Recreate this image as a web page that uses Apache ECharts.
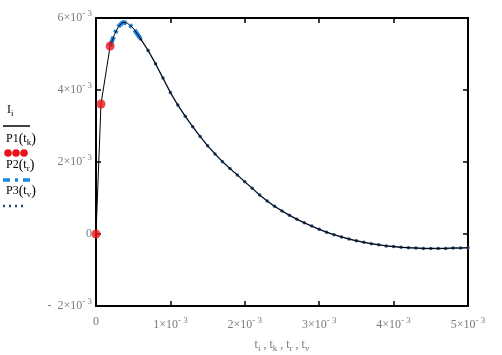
<!DOCTYPE html>
<html><head><meta charset="utf-8">
<script src="https://cdn.jsdelivr.net/npm/echarts@6/dist/echarts.min.js"></script>
<style>html,body{margin:0;padding:0;background:#fff}#c{width:502px;height:355px}</style>
</head><body><div id="c"></div>
<script>
// values in units of 1e-3
const tMain = [0, 0.067, 0.19, 0.25, 0.3, 0.36, 0.42, 0.5, 0.6, 0.7, 0.8, 0.9, 1.0, 1.1, 1.2, 1.3, 1.4, 1.5, 1.6, 1.7, 1.8, 1.9, 2.0, 2.1, 2.2, 2.3, 2.4, 2.5, 2.6, 2.7, 2.8, 2.9, 3.0, 3.1, 3.2, 3.3, 3.4, 3.5, 3.6, 3.7, 3.8, 3.9, 4.0, 4.1, 4.2, 4.3, 4.4, 4.5, 4.6, 4.7, 4.8, 4.9, 5.0];
const iMain = [0, 3.61, 5.22, 5.55, 5.76, 5.88, 5.86, 5.72, 5.42, 5.10, 4.73, 4.33, 3.93, 3.58, 3.27, 2.98, 2.71, 2.45, 2.22, 2.01, 1.82, 1.64, 1.45, 1.27, 1.08, 0.92, 0.77, 0.64, 0.52, 0.41, 0.31, 0.22, 0.13, 0.05, -0.02, -0.08, -0.14, -0.19, -0.23, -0.27, -0.30, -0.33, -0.35, -0.37, -0.38, -0.39, -0.40, -0.40, -0.40, -0.40, -0.39, -0.39, -0.38];
const tK = [0, 0.067, 0.19];
const p1 = [0, 3.61, 5.22];
const tR = [0.19, 0.25, 0.3, 0.36, 0.42, 0.5, 0.6];
const p2 = [5.22, 5.55, 5.76, 5.88, 5.86, 5.72, 5.42];
const tV = [0.6, 0.7, 0.8, 0.9, 1.0, 1.1, 1.2, 1.3, 1.4, 1.5, 1.6, 1.7, 1.8, 1.9, 2.0, 2.1, 2.2, 2.3, 2.4, 2.5, 2.6, 2.7, 2.8, 2.9, 3.0, 3.1, 3.2, 3.3, 3.4, 3.5, 3.6, 3.7, 3.8, 3.9, 4.0, 4.1, 4.2, 4.3, 4.4, 4.5, 4.6, 4.7, 4.8, 4.9, 5.0];
const p3 = [5.42, 5.10, 4.73, 4.33, 3.93, 3.58, 3.27, 2.98, 2.71, 2.45, 2.22, 2.01, 1.82, 1.64, 1.45, 1.27, 1.08, 0.92, 0.77, 0.64, 0.52, 0.41, 0.31, 0.22, 0.13, 0.05, -0.02, -0.08, -0.14, -0.19, -0.23, -0.27, -0.30, -0.33, -0.35, -0.37, -0.38, -0.39, -0.40, -0.40, -0.40, -0.40, -0.39, -0.39, -0.38];
const xTicks = [0, 1, 2, 3, 4, 5];
const yTicks = [-2, 0, 2, 4, 6];

const FONT = 'Liberation Serif';
const GRAY = '#7a7a7a';
const rich = {
  b: {fontFamily: FONT, fontSize: 12, color: GRAY},
  p: {fontFamily: FONT, fontSize: 14, color: GRAY},
  s: {fontFamily: FONT, fontSize: 9, color: GRAY, padding: [0, 0, 8, 0]},
  d: {fontFamily: FONT, fontSize: 9, color: GRAY, padding: [7, 0, 0, 0]}
};
function sciLabel(v) {
  if (Math.abs(v) < 1e-9) return '{b|0}';
  if (v < 0) return '{b|-  ' + (-v) + '×10}{s|- 3}';
  return '{b|' + v + '×10}{s|- 3}';
}
const zip = (a, b) => a.map((x, i) => [x, b[i]]);

const axisLine = {onZero: false, lineStyle: {color: '#000', width: 2}};
const axisTick = {inside: true, length: 5, lineStyle: {color: '#000', width: 1.5}};

const chart = echarts.init(document.getElementById('c'));
chart.setOption({
  animation: false,
  backgroundColor: '#fff',
  grid: {left: 96, right: 34, top: 18, bottom: 49, containLabel: false, outerBoundsMode: 'none'},
  xAxis: [
    {type: 'value', min: xTicks[0], max: xTicks[xTicks.length - 1], interval: 1, position: 'bottom',
     axisLine, axisTick, splitLine: {show: false},
     axisLabel: {margin: 10, formatter: sciLabel, rich},
     name: '{b|t}{d|i}{b| , t}{d|k}{b| , t}{d|r}{b| , t}{d|v}', nameLocation: 'middle', nameGap: 31,
     nameTextStyle: {rich}},
    {type: 'value', min: 0, max: 5, interval: 1, position: 'top',
     axisLine, axisTick, splitLine: {show: false}, axisLabel: {show: false}}
  ],
  yAxis: [
    {type: 'value', min: yTicks[0], max: yTicks[yTicks.length - 1], interval: 2, position: 'left',
     axisLine, axisTick, splitLine: {show: false},
     axisLabel: {margin: 4, formatter: sciLabel, rich}},
    {type: 'value', min: -2, max: 6, interval: 2, position: 'right',
     axisLine, axisTick, splitLine: {show: false}, axisLabel: {show: false}}
  ],
  series: [
    {type: 'line', data: zip(tV, p3), symbol: 'circle', symbolSize: 3.5, showSymbol: true,
     itemStyle: {color: '#2b4a72'}, lineStyle: {color: '#5a7aa0', width: 1.5}, z: 2},
    {type: 'line', data: zip(tR, p2), showSymbol: false,
     lineStyle: {color: '#1e88e5', width: 4.5, type: [10, 4, 3, 4]}, z: 3},
    {type: 'line', data: zip(tMain, iMain), showSymbol: false,
     lineStyle: {color: '#000', width: 1}, z: 4},
    {type: 'scatter', data: zip(tK, p1), symbolSize: 9, itemStyle: {color: '#e8141c'}, z: 5}
  ],
  graphic: [
    {type: 'text', x: 7, y: 102, style: {text: '{b|I}{d|i}', rich}},
    {type: 'line', shape: {x1: 3, y1: 126, x2: 30, y2: 126}, style: {stroke: '#000', lineWidth: 1.5}},
    {type: 'text', x: 6, y: 131, style: {text: '{b|P1}{p|(}{b|t}{d|k}{p|)}', rich}},
    {type: 'circle', shape: {cx: 8, cy: 153, r: 3.8}, style: {fill: '#e8141c'}},
    {type: 'circle', shape: {cx: 16, cy: 153, r: 3.8}, style: {fill: '#e8141c'}},
    {type: 'circle', shape: {cx: 24, cy: 153, r: 3.8}, style: {fill: '#e8141c'}},
    {type: 'text', x: 6, y: 157, style: {text: '{b|P2}{p|(}{b|t}{d|r}{p|)}', rich}},
    {type: 'line', shape: {x1: 3, y1: 180, x2: 31, y2: 180}, style: {stroke: '#1e88e5', lineWidth: 3.5, lineDash: [7, 5, 3, 5]}},
    {type: 'text', x: 6, y: 183, style: {text: '{b|P3}{p|(}{b|t}{d|v}{p|)}', rich}},
    {type: 'line', shape: {x1: 3, y1: 206, x2: 26, y2: 206}, style: {stroke: '#2b4a72', lineWidth: 2.5, lineDash: [2, 4]}}
  ]
});
</script></body></html>
